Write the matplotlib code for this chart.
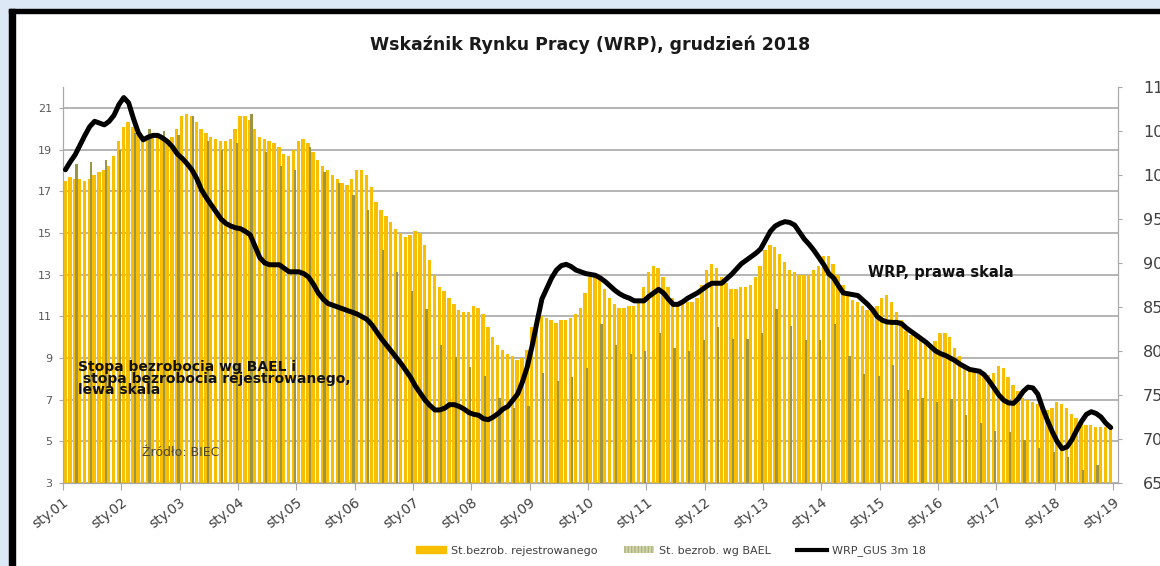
import numpy as np
import matplotlib.pyplot as plt
from matplotlib.patches import Patch, Rectangle
from matplotlib.lines import Line2D

# stopa bezrobocia rejestrowanego, miesiecznie sty.2001 - gru.2018
registered = [
    17.5, 17.7, 17.6, 17.6, 17.5, 17.6, 17.8, 17.9, 18.0, 18.2, 18.7, 19.4,
    20.1, 20.3, 20.1, 19.7, 19.5, 19.5, 19.6, 19.6, 19.5, 19.4, 19.6, 20.0,
    20.6, 20.7, 20.6, 20.3, 20.0, 19.8, 19.6, 19.5, 19.4, 19.4, 19.5, 20.0,
    20.6, 20.6, 20.4, 20.0, 19.6, 19.5, 19.4, 19.3, 19.1, 18.8, 18.7, 19.0,
    19.4, 19.5, 19.3, 18.9, 18.5, 18.2, 18.0, 17.8, 17.6, 17.4, 17.3, 17.6,
    18.0, 18.0, 17.8, 17.2, 16.5, 16.1, 15.8, 15.5, 15.2, 15.0, 14.8, 14.9,
    15.1, 15.0, 14.4, 13.7, 13.0, 12.4, 12.2, 11.9, 11.6, 11.3, 11.2, 11.2,
    11.5, 11.4, 11.1, 10.5, 10.0, 9.6, 9.4, 9.2, 9.1, 8.9, 9.0, 9.4,
    10.5, 10.9, 11.0, 10.9, 10.8, 10.7, 10.8, 10.8, 10.9, 11.1, 11.4, 12.1,
    12.9, 13.0, 12.9, 12.3, 11.9, 11.6, 11.4, 11.4, 11.5, 11.5, 11.7, 12.4,
    13.1, 13.4, 13.3, 12.9, 12.4, 11.9, 11.7, 11.7, 11.7, 11.7, 11.9, 12.5,
    13.2, 13.5, 13.3, 12.9, 12.6, 12.3, 12.3, 12.4, 12.4, 12.5, 12.9, 13.4,
    14.2, 14.4, 14.3, 14.0, 13.6, 13.2, 13.1, 13.0, 13.0, 13.0, 13.2, 13.4,
    13.9, 13.9, 13.5, 13.0, 12.5, 12.0, 11.8, 11.7, 11.5, 11.3, 11.4, 11.5,
    11.9, 12.0, 11.7, 11.2, 10.8, 10.3, 10.1, 10.0, 9.9, 9.7, 9.6, 9.8,
    10.2, 10.2, 10.0, 9.5, 9.1, 8.7, 8.5, 8.4, 8.3, 8.2, 8.2, 8.3,
    8.6, 8.5, 8.1, 7.7, 7.4, 7.1, 7.0, 6.9, 6.8, 6.6, 6.5, 6.6,
    6.9, 6.8, 6.6, 6.3, 6.1, 5.9, 5.8, 5.8, 5.7, 5.7, 5.7, 5.8,
]

# stopa bezrobocia wg BAEL, kwartalnie I kw.2001 - III kw.2018
bael = [
    18.3, 18.4, 18.5, 19.0,
    19.8, 20.0, 19.9, 19.7,
    20.6, 19.4, 19.0, 19.3,
    20.7, 18.9, 18.2, 18.0,
    19.1, 17.9, 17.4, 16.8,
    16.1, 14.2, 13.1, 12.2,
    11.35, 9.6, 9.05, 8.55,
    8.15, 7.1, 6.6, 6.7,
    8.3, 7.9, 8.1, 8.5,
    10.65, 9.6, 9.2, 9.35,
    10.2, 9.5, 9.35, 9.85,
    10.5, 9.9, 9.9, 10.2,
    11.35, 10.55, 9.85, 9.85,
    10.65, 9.1, 8.25, 8.15,
    8.65, 7.45, 7.1, 6.9,
    7.05, 6.25, 5.9, 5.5,
    5.45, 5.05, 4.7, 4.5,
    4.25, 3.6, 3.85,
]

# WRP_GUS 3m 18, miesiecznie
wrp = [
    100.6, 101.5, 102.3, 103.4, 104.5, 105.5, 106.1, 105.9, 105.7, 106.1, 106.8, 108.0,
    108.8, 108.2, 106.4, 104.8, 104.0, 104.3, 104.5, 104.5, 104.2, 103.8, 103.2, 102.4,
    101.9, 101.3, 100.6, 99.6, 98.3, 97.4, 96.6, 95.8, 95.0, 94.5, 94.2, 94.0,
    93.9, 93.6, 93.2, 91.9, 90.6, 90.0, 89.8, 89.8, 89.8, 89.4, 89.0, 89.0,
    89.0, 88.8, 88.4, 87.6, 86.6, 85.9, 85.4, 85.2, 85.0, 84.8, 84.6, 84.4,
    84.2, 83.9, 83.6, 83.0, 82.2, 81.4, 80.7, 80.0, 79.3, 78.6, 77.8, 77.0,
    76.0, 75.2, 74.4, 73.8, 73.3, 73.3, 73.5, 73.9, 73.9, 73.7, 73.4, 73.0,
    72.8, 72.7, 72.3, 72.2, 72.5, 72.9, 73.4, 73.7, 74.4, 75.1, 76.5, 78.2,
    80.6, 83.3, 85.9, 87.1, 88.3, 89.2, 89.7, 89.85, 89.6, 89.2, 89.0, 88.8,
    88.7, 88.6, 88.3, 87.9, 87.4, 86.9, 86.5, 86.2, 86.0, 85.7, 85.7, 85.7,
    86.2, 86.6, 87.0, 86.6, 85.9, 85.3, 85.3, 85.6, 86.0, 86.3, 86.6, 87.0,
    87.4, 87.7, 87.7, 87.7, 88.2, 88.7, 89.3, 89.9, 90.3, 90.7, 91.1, 91.6,
    92.6, 93.6, 94.2, 94.5, 94.7, 94.6, 94.3, 93.5, 92.7, 92.1, 91.4, 90.6,
    89.8, 88.8, 88.3, 87.4, 86.6, 86.5, 86.4, 86.3, 85.8, 85.3, 84.7, 83.9,
    83.5, 83.3, 83.25, 83.25, 83.1, 82.6, 82.2, 81.8, 81.4, 81.0, 80.5, 80.0,
    79.7, 79.5, 79.2, 78.9, 78.5, 78.2, 77.9, 77.8, 77.7, 77.3, 76.6, 75.8,
    75.0, 74.4, 74.1, 74.05, 74.6, 75.4, 75.9, 75.8, 75.1, 73.5, 72.1, 70.8,
    69.7, 68.9, 69.1, 69.9, 71.0, 72.0, 72.8, 73.1, 72.9, 72.5, 71.8, 71.3,
]

tick_labels = ['sty.%02d' % y for y in range(1, 20)]

YELLOW = '#f7bf00'
BAEL_C = '#9d9545'
GRID = '#a8a8a8'
TXT = '#404040'

W, H = 1160, 566


def fx(x):
    return x / W


def fy(y):
    return 1 - y / H


fig = plt.figure(figsize=(W / 100, H / 100), dpi=100)
fig.patch.set_facecolor('white')

# ramka zrzutu ekranu
fig.patches.append(Rectangle((0, 0), fx(9), 1, transform=fig.transFigure,
                             color='#dce8f5', zorder=0))
fig.patches.append(Rectangle((0, fy(9)), 1, 9 / H, transform=fig.transFigure,
                             color='#dce8f5', zorder=0))
fig.patches.append(Rectangle((fx(9), 0), 6 / W, fy(9), transform=fig.transFigure,
                             color='black', zorder=1))
fig.patches.append(Rectangle((fx(9), fy(12.5)), 1, 3.5 / H, transform=fig.transFigure,
                             color='black', zorder=1))

ax = fig.add_axes([fx(63), fy(483), (1118 - 63) / W, (483 - 87) / H])
months = np.arange(len(registered))
bael_idx = np.arange(2, 2 + 3 * len(bael), 3)

ax.bar(months - 0.1, registered, width=0.7, color=YELLOW, linewidth=0, zorder=2)
ax.bar(bael_idx + 0.27, bael, width=0.46, color=BAEL_C, linewidth=0, zorder=3)

ax.set_xlim(-0.5, 216.5)
ax.set_ylim(3, 22)
ax.set_yticks(range(3, 23, 2))
ax.set_xticks(np.arange(-0.5, 217, 12))
ax.set_xticklabels(tick_labels, rotation=37, ha='right', va='top',
                   rotation_mode='anchor', fontsize=10, color=TXT)
ax.yaxis.grid(True, color=GRID, linewidth=1.2, zorder=0)
ax.set_axisbelow(True)
ax.tick_params(axis='y', length=3, pad=5, labelsize=8, labelcolor='#595959', color=GRID)
ax.tick_params(axis='x', length=5, pad=4, color=GRID)
for s in ['left', 'bottom', 'right']:
    ax.spines[s].set_color(GRID)
ax.spines['top'].set_visible(False)

ax2 = ax.twinx()
ax2.plot(months, wrp, color='black', linewidth=3.6, solid_capstyle='round', zorder=5)
ax2.set_ylim(65, 110)
ax2.set_yticks(range(65, 111, 5))
ax2.tick_params(axis='y', length=3, pad=15, labelsize=11.5, labelcolor=TXT, color=GRID)
for s in ['left', 'bottom', 'right']:
    ax2.spines[s].set_color(GRID)
ax2.spines['top'].set_visible(False)

fig.text(fx(590), fy(45), 'Wskaźnik Rynku Pracy (WRP), grudzień 2018',
         ha='center', va='center', fontsize=12.5, fontweight='bold', color='#1a1a1a')

fig.text(fx(868), fy(272), 'WRP, prawa skala', ha='left', va='center',
         fontsize=10.5, fontweight='bold', color='#111111')
fig.text(fx(78), fy(367), 'Stopa bezrobocia wg BAEL i', ha='left', va='center',
         fontsize=10, fontweight='bold', color='#111111')
fig.text(fx(78), fy(379), ' stopa bezrobocia rejestrowanego,', ha='left', va='center',
         fontsize=10, fontweight='bold', color='#111111')
fig.text(fx(78), fy(390), 'lewa skala', ha='left', va='center',
         fontsize=10, fontweight='bold', color='#111111')
fig.text(fx(142), fy(453), 'Źródło: BIEC', ha='left', va='center',
         fontsize=9, color='#4a4636')

handles = [
    Patch(facecolor=YELLOW, edgecolor=YELLOW),
    Patch(facecolor='#d3d6ad', edgecolor='#aeb27e', hatch='|||||', linewidth=0),
    Line2D([0], [0], color='black', linewidth=3),
]
labels = ['St.bezrob. rejestrowanego', 'St. bezrob. wg BAEL', 'WRP_GUS 3m 18']
fig.legend(handles, labels, loc='center', bbox_to_anchor=(fx(671), fy(551)),
           ncol=3, frameon=False, fontsize=8, handlelength=2.7, handleheight=0.6,
           handletextpad=0.4, columnspacing=2.4, labelcolor=TXT)

fig.savefig('out.png', dpi=100)
